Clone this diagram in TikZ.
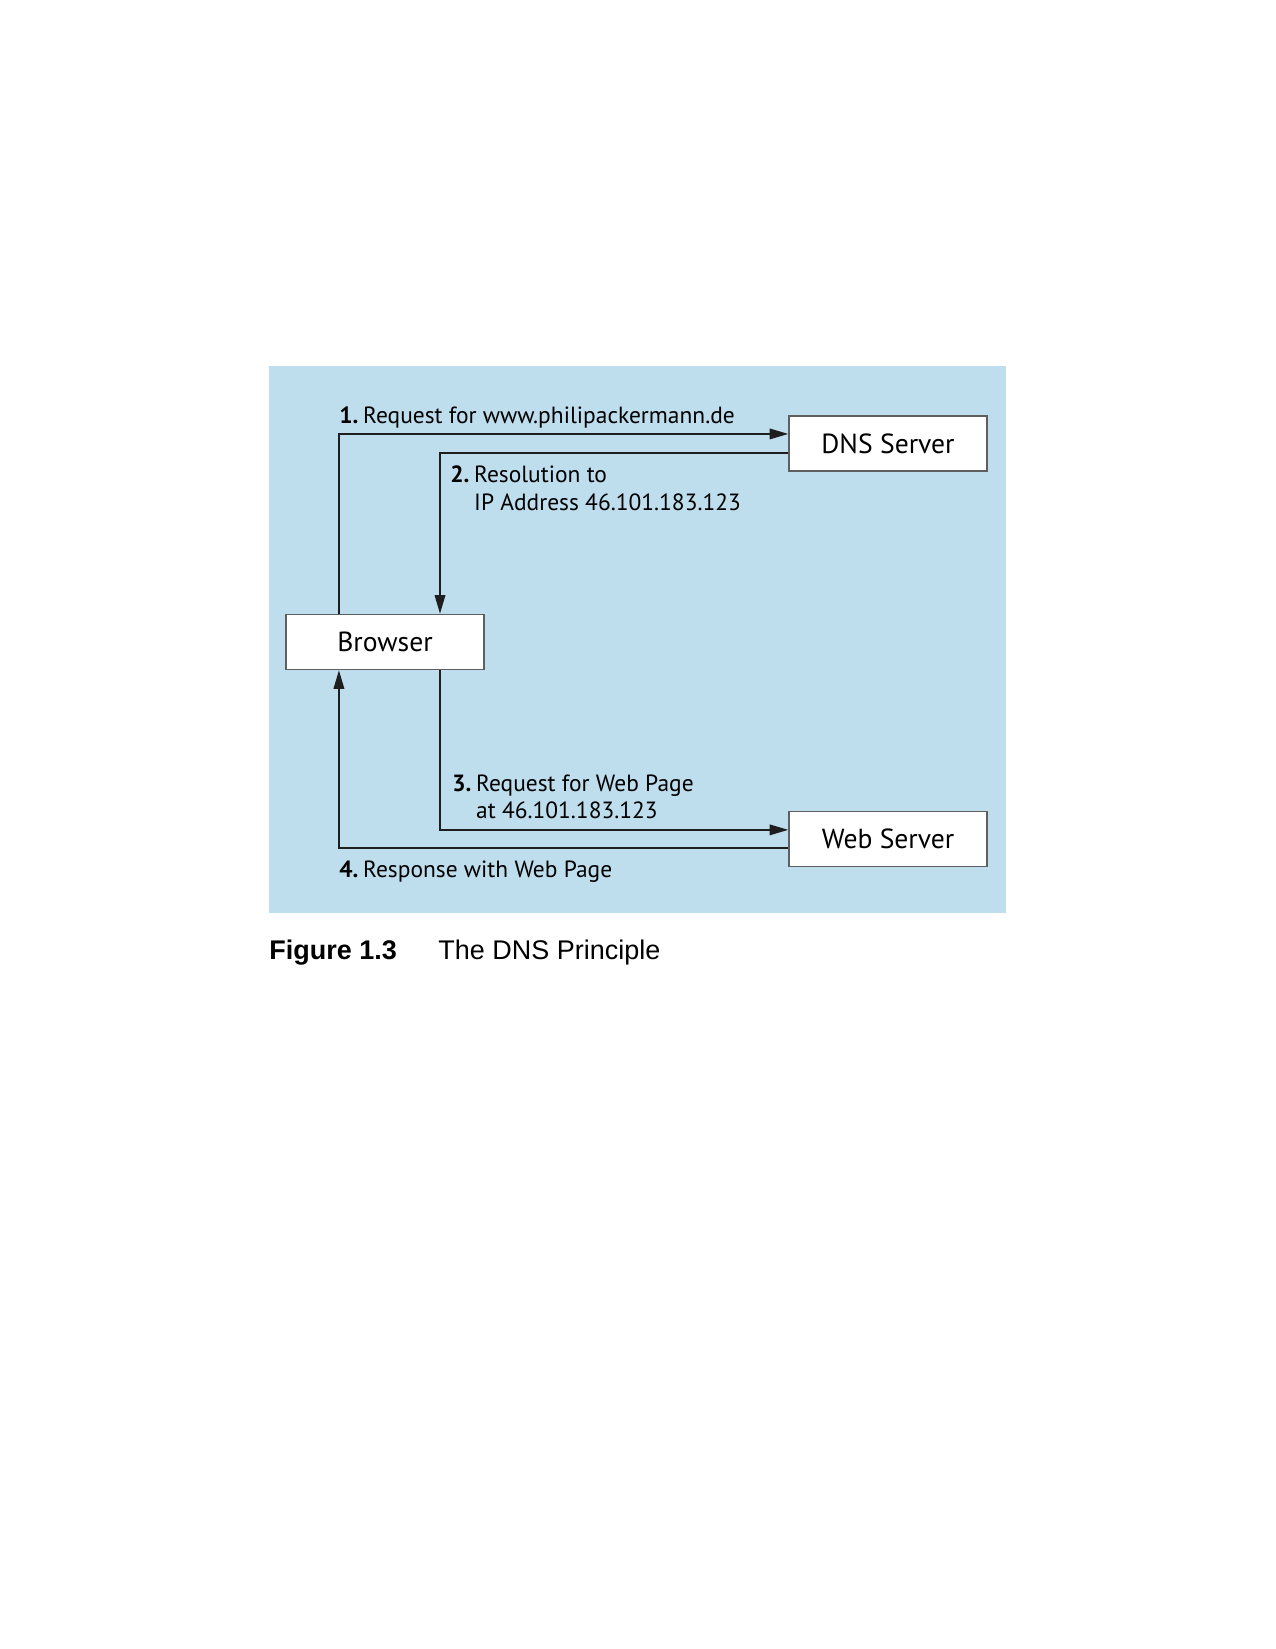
\documentclass[tikz,border=0pt]{standalone}
\usepackage{fontspec}
\setmainfont{PT Sans}
\newfontfamily\captionfont{Liberation Sans}
\usetikzlibrary{arrows.meta, positioning}
\definecolor{skyblue}{RGB}{190, 222, 238}
\definecolor{boxgray}{RGB}{95, 95, 95}
\definecolor{linedark}{RGB}{30, 30, 30}

\begin{document}
\begin{tikzpicture}[x=0.4818pt, y=-0.4818pt,
    server/.style={draw=boxgray, fill=white, line width=0.6pt, minimum width=95.4pt, minimum height=26.5pt, inner sep=0pt, font=\fontsize{13.3}{15}\selectfont},
    flow/.style={draw=linedark, line width=1pt, -{Triangle[length=9pt, width=5pt]}},
    steplabel/.style={anchor=base west, inner sep=0pt, font=\fontsize{11.3}{13.2}\selectfont}
]
\useasboundingbox (0,0) rectangle (1275,1649);
\fill[white] (0,0) rectangle (1275,1649);

% Background panel
\fill[skyblue] (269,366) rectangle (1006,913);

% Servers and browser
\node[server] (dns) at (888,443.5) {DNS Server};
\node[server] (browser) at (385,642) {Browser};
\node[server] (web) at (888,839) {Web Server};

% Connecting Arrows
\draw[flow] ([xshift=-22.2pt]browser.north) |- ([yshift=4.6pt]dns.west);
\draw[flow] ([yshift=-4.6pt]dns.west) -| ([xshift=26.5pt]browser.north);
\draw[flow] ([xshift=26.5pt]browser.south) |- ([yshift=4.4pt]web.west);
\draw[flow] ([yshift=-4.4pt]web.west) -| ([xshift=-22.2pt]browser.south);

% Step labels
\node[steplabel] (step1) at (339,424) {\textbf{1.}\hspace{0.2em}Request for www.philipackermann.de};
\node[steplabel] (step2) at (450,483) {\begin{tabular}[t]{@{}l@{\hspace{0.2em}}l@{}}\textbf{2.} & Resolution to\\ & IP Address 46.101.183.123\end{tabular}};
\node[steplabel] (step3) at (452,791) {\begin{tabular}[t]{@{}l@{\hspace{0.2em}}l@{}}\textbf{3.} & Request for Web Page\\ & at 46.101.183.123\end{tabular}};
\node[steplabel] (step4) at (339,877) {\textbf{4.}\hspace{0.2em}Response with Web Page};

% Caption
\node[anchor=base west, inner sep=0pt, font=\captionfont\fontsize{13}{15}\selectfont\bfseries] (figno) at (269,959) {Figure 1.3};
\node[anchor=base west, inner sep=0pt, font=\captionfont\fontsize{13}{15}\selectfont] (figtitle) at (438,959) {The DNS Principle};

\end{tikzpicture}
\end{document}
